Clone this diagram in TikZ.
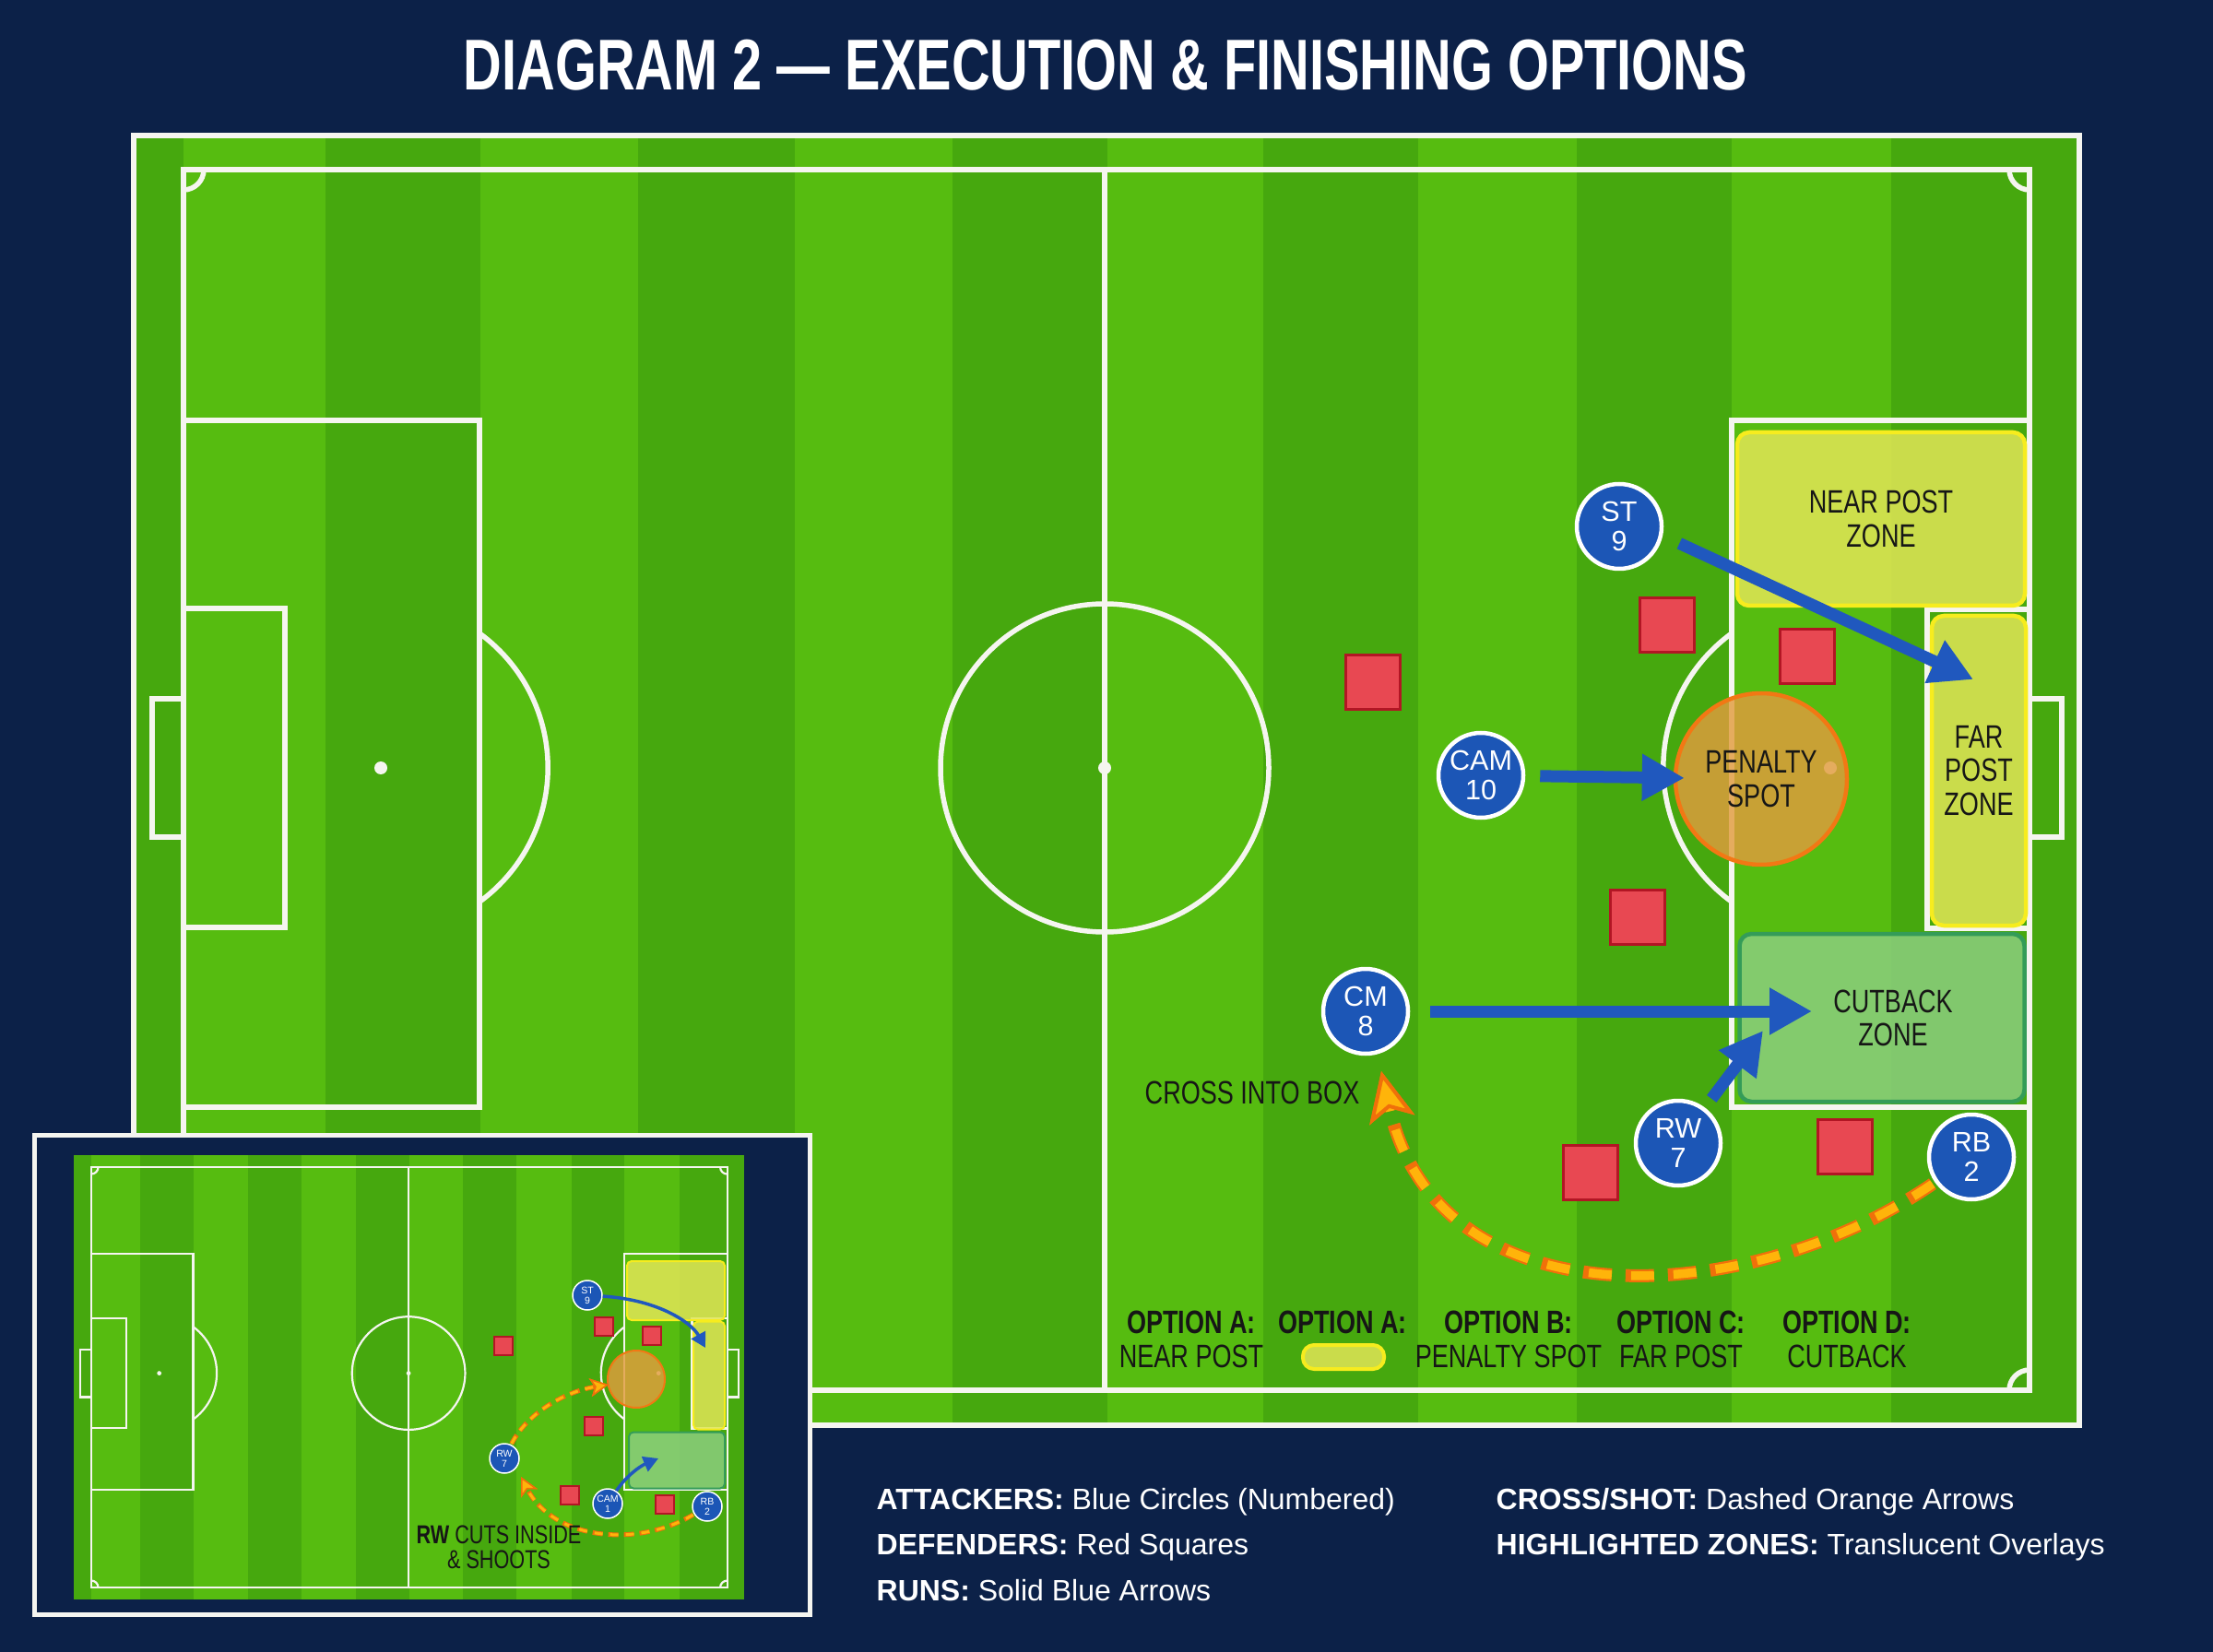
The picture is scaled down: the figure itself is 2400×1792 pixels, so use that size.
\documentclass[tikz,border=0pt]{standalone}
\usepackage{fontspec}
\setmainfont{Liberation Sans}
\newfontfamily\titlefont{Liberation Sans}[FakeStretch=0.74]
\newfontfamily\condfont{Liberation Sans}[FakeStretch=0.77]
\newfontfamily\legendfont{Liberation Sans}[FakeStretch=1.0]
\usetikzlibrary{arrows.meta,positioning}

\definecolor{navy}{RGB}{12,33,72}
\definecolor{turflight}{RGB}{86,188,16}
\definecolor{turfdark}{RGB}{70,168,14}
\definecolor{pitchwhite}{RGB}{245,245,240}
\definecolor{attblue}{RGB}{28,86,182}
\definecolor{runblue}{RGB}{32,88,190}
\definecolor{defred}{RGB}{232,72,82}
\definecolor{defedge}{RGB}{178,22,36}
\definecolor{zoneyellow}{RGB}{226,230,86}
\definecolor{zoneyellowedge}{RGB}{246,236,30}
\definecolor{spotorange}{RGB}{226,156,62}
\definecolor{spotedge}{RGB}{242,120,20}
\definecolor{cutgreen}{RGB}{140,206,126}
\definecolor{cutedge}{RGB}{52,156,88}
\definecolor{crossfill}{RGB}{255,180,10}
\definecolor{crossedge}{RGB}{240,112,10}
\definecolor{ink}{RGB}{22,22,22}

% turf, stripes and markings of one pitch (main coordinates)
\newcommand{\pitchmarks}{%
  \fill[turflight] (145,147) rectangle (2255,1546);
  \foreach \xa/\xb in {145/199, 353/521, 692/862, 1033/1201, 1370/1538, 1710/1878, 2051/2255}
    \fill[turfdark] (\xa,147) rectangle (\xb,1546);
  \draw[pitchline] (199,184) rectangle (2201,1508);
  \draw[pitchline] (1198,184) -- (1198,1508);
  \draw[pitchline] (1198,833) circle[radius=178];
  \fill[pitchwhite] (1198,833) circle[radius=7];
  % left end
  \draw[pitchline] (199,456) rectangle (520,1201);
  \draw[pitchline] (199,660) rectangle (309,1006);
  \draw[pitchline] (165,758) rectangle (199,908);
  \fill[pitchwhite] (413,833) circle[radius=7];
  \draw[pitchline] (520,687) arc[start angle=-54, end angle=54, radius=180];
  % right end
  \draw[pitchline] (1878,456) rectangle (2201,1201);
  \draw[pitchline] (2090,661) rectangle (2201,1007);
  \draw[pitchline] (2201,758) rectangle (2236,908);
  \fill[pitchwhite] (1985,833) circle[radius=7];
  \draw[pitchline] (1878,687) arc[start angle=234, end angle=126, radius=180];
  % corners
  \draw[pitchline] (221,184) arc[start angle=0, end angle=90, radius=22];
  \draw[pitchline] (2179,184) arc[start angle=180, end angle=90, radius=22];
  \draw[pitchline] (199,1486) arc[start angle=-90, end angle=0, radius=22];
  \draw[pitchline] (2179,1508) arc[start angle=180, end angle=270, radius=22];
}

\begin{document}
\begin{tikzpicture}[x=0.1mm, y=-0.1mm,
    pitchline/.style={draw=pitchwhite, line width=0.55mm},
    attacker/.style={circle, draw=white, line width=0.45mm, fill=attblue, text=white,
      minimum size=9.2mm, inner sep=0pt, align=center,
      font=\legendfont\fontsize{8.7}{9.2}\selectfont},
    defender/.style={rectangle, draw=defedge, line width=0.35mm, fill=defred,
      minimum size=5.9mm, inner sep=0pt},
    zone/.style={line width=0.45mm, inner sep=0pt, align=center, text=ink,
      text opacity=1, font=\condfont\fontsize{10}{10.3}\selectfont},
    yellowzone/.style={zone, rounded corners=1.3mm, draw=zoneyellowedge, fill=zoneyellow, fill opacity=0.85},
    spotzone/.style={zone, circle, draw=spotedge, fill=spotorange, fill opacity=0.82},
    cutzone/.style={zone, rounded corners=1.3mm, draw=cutedge, fill=cutgreen, fill opacity=0.85},
    run/.style={draw=runblue, line width=1.3mm, -{Triangle[length=4.6mm, width=4.8mm]}},
    cross/.style={draw=crossfill, line width=0.95mm, dash pattern=on 2.5mm off 2.1mm, dash phase=4.3mm,
      preaction={draw=crossedge, line width=1.4mm, dash pattern=on 3.1mm off 1.5mm},
      -{Stealth[length=5.4mm, width=5mm, inset=1.3mm, fill=crossfill, color=crossedge, line width=0.4mm]}},
    tag/.style={text=ink, align=center, font=\condfont\fontsize{10}{10.5}\selectfont},
    legend/.style={text=white, anchor=base west, inner sep=0pt, font=\legendfont\fontsize{9.1}{11}\selectfont},
    iattacker/.style={attacker, line width=0.15mm, minimum size=3.2mm, font=\legendfont\fontsize{3}{3.2}\selectfont},
    idefender/.style={defender, line width=0.15mm, minimum size=2mm},
    iyellow/.style={yellowzone, line width=0.2mm, rounded corners=0.5mm},
    icut/.style={cutzone, line width=0.2mm, rounded corners=0.5mm},
    ispot/.style={spotzone, line width=0.2mm},
    irun/.style={draw=runblue, line width=0.35mm, -{Triangle[length=1.6mm, width=1.7mm]}},
    icross/.style={draw=crossfill, line width=0.3mm, dash pattern=on 0.9mm off 0.8mm, dash phase=1.6mm,
      preaction={draw=crossedge, line width=0.5mm, dash pattern=on 1.1mm off 0.6mm},
      -{Stealth[length=2mm, width=2mm, inset=0.5mm, fill=crossfill, color=crossedge, line width=0.15mm]}},
  ]

  \useasboundingbox (0,0) rectangle (2400,1792);
  \fill[navy] (0,0) rectangle (2400,1792);

  % Title
  \node[text=white, font=\titlefont\bfseries\fontsize{22.2}{26}\selectfont] (title) at (1199,71)
    {DIAGRAM 2 — EXECUTION \& FINISHING OPTIONS};

  % Main pitch
  \pitchmarks
  \draw[draw=pitchwhite, line width=0.6mm] (145,147) rectangle (2255,1546);

  % Highlighted zones
  \node[yellowzone, minimum width=31.2mm, minimum height=18.8mm] (nearpost) at (2040,563) {NEAR POST\\ZONE};
  \node[yellowzone, minimum width=10.2mm, minimum height=33.6mm] (farpost) at (2146,836) {FAR\\POST\\ZONE};
  \node[spotzone, minimum size=18.6mm] (pspot) at (1910,845) {PENALTY\\SPOT};
  \node[cutzone, minimum width=30.9mm, minimum height=18.2mm] (cutback) at (2041,1104) {\hspace*{2.4mm}CUTBACK\\\hspace*{2.4mm}ZONE};

  % Defenders
  \node[defender] (d1) at (1489,740) {};
  \node[defender] (d2) at (1808,678) {};
  \node[defender] (d3) at (1960,712) {};
  \node[defender] (d4) at (1776,995) {};
  \node[defender] (d5) at (1725,1272) {};
  \node[defender] (d6) at (2001,1244) {};

  % Attackers
  \node[attacker] (st) at (1756,571) {ST\\9};
  \node[attacker] (cam) at (1606,841) {CAM\\10};
  \node[attacker] (cm) at (1481,1097) {CM\\8};
  \node[attacker] (rw) at (1820,1240) {RW\\7};
  \node[attacker] (rb) at (2138,1255) {RB\\2};

  % Run targets
  \coordinate (farrun) at (2140,737);
  \coordinate (cutrun) at (1965,1097);
  \coordinate (rwrun) at (1912,1118);
  \coordinate (crosstip) at (1498,1162);

  % Runs
  \draw[run, shorten <=2mm] (st.-12) -- (farrun);
  \draw[run, shorten <=1.6mm, shorten >=-1.2mm] (cam) -- (pspot);
  \draw[run, shorten <=2.2mm] (cm) -- (cutrun);
  \draw[run, shorten <=1.2mm] (rw) -- (rwrun);

  % Cross
  \draw[cross] (rb) .. controls (1900,1420) and (1560,1440) .. (crosstip);
  \node[tag] (crosslabel) at (1358,1185) {CROSS INTO BOX};

  % Options row
  \node[tag] (opta) at (1292,1453) {\textbf{OPTION A:}\\NEAR POST};
  \node[tag] (optaalt) at (1456,1434) {\textbf{OPTION A:}};
  \node[yellowzone, minimum width=8.8mm, minimum height=2.6mm, rounded corners=1.2mm, line width=0.4mm] (swatch) at (1457,1472) {};
  \node[tag] (optb) at (1636,1453) {\textbf{OPTION B:}\\PENALTY SPOT};
  \node[tag] (optc) at (1823,1453) {\textbf{OPTION C:}\\FAR POST};
  \node[tag] (optd) at (2003,1453) {\textbf{OPTION D:}\\CUTBACK};

  % Inset: RW variation
  \draw[draw=pitchwhite, line width=0.5mm, fill=navy] (37,1231) rectangle (878,1751);
  \begin{scope}[shift={(30.4,1202.6)}, scale=0.3445, pitchline/.append style={line width=0.22mm}]
    \pitchmarks
  \end{scope}

  \node[iyellow, minimum width=10.6mm, minimum height=6.4mm] (inear) at (733,1400) {};
  \node[iyellow, minimum width=3.4mm, minimum height=11.7mm] (ifar) at (769,1492) {};
  \node[ispot, minimum size=6.2mm] (ipspot) at (690,1496) {};
  \node[icut, minimum width=10.4mm, minimum height=6.1mm] (icut) at (734,1584) {};

  \node[idefender] (id1) at (546,1460) {};
  \node[idefender] (id2) at (655,1439) {};
  \node[idefender] (id3) at (707,1449) {};
  \node[idefender] (id4) at (644,1547) {};
  \node[idefender] (id5) at (618,1622) {};
  \node[idefender] (id6) at (721,1632) {};

  \node[iattacker] (ist) at (637,1405) {ST\\9};
  \node[iattacker] (irw) at (547,1582) {RW\\7};
  \node[iattacker] (icam) at (659,1631) {CAM\\1};
  \node[iattacker] (irb) at (767,1634) {RB\\2};

  \coordinate (iststop) at (765,1462);
  \coordinate (icamstop) at (714,1582);
  \coordinate (irwstop) at (660,1502);
  \coordinate (irbstop) at (565,1602);

  \draw[irun] (ist) .. controls (715,1410) and (750,1435) .. (iststop);
  \draw[irun] (icam) .. controls (680,1600) and (695,1590) .. (icamstop);
  \draw[icross] (irw) .. controls (570,1535) and (610,1510) .. (irwstop);
  \draw[icross] (irb) .. controls (690,1680) and (600,1670) .. (irbstop);

  \node[tag, font=\condfont\fontsize{8}{7.7}\selectfont] (ilabel) at (541,1678) {\textbf{RW} CUTS INSIDE\\\& SHOOTS};

  % Key
  \node[legend] (lgatt) at (950,1637) {\textbf{ATTACKERS:} Blue Circles (Numbered)};
  \node[legend] (lgdef) at (950,1686) {\textbf{DEFENDERS:} Red Squares};
  \node[legend] (lgrun) at (950,1736) {\textbf{RUNS:} Solid Blue Arrows};
  \node[legend] (lgcross) at (1622,1637) {\textbf{CROSS/SHOT:} Dashed Orange Arrows};
  \node[legend] (lgzone) at (1622,1686) {\textbf{HIGHLIGHTED ZONES:} Translucent Overlays};

\end{tikzpicture}
\end{document}
